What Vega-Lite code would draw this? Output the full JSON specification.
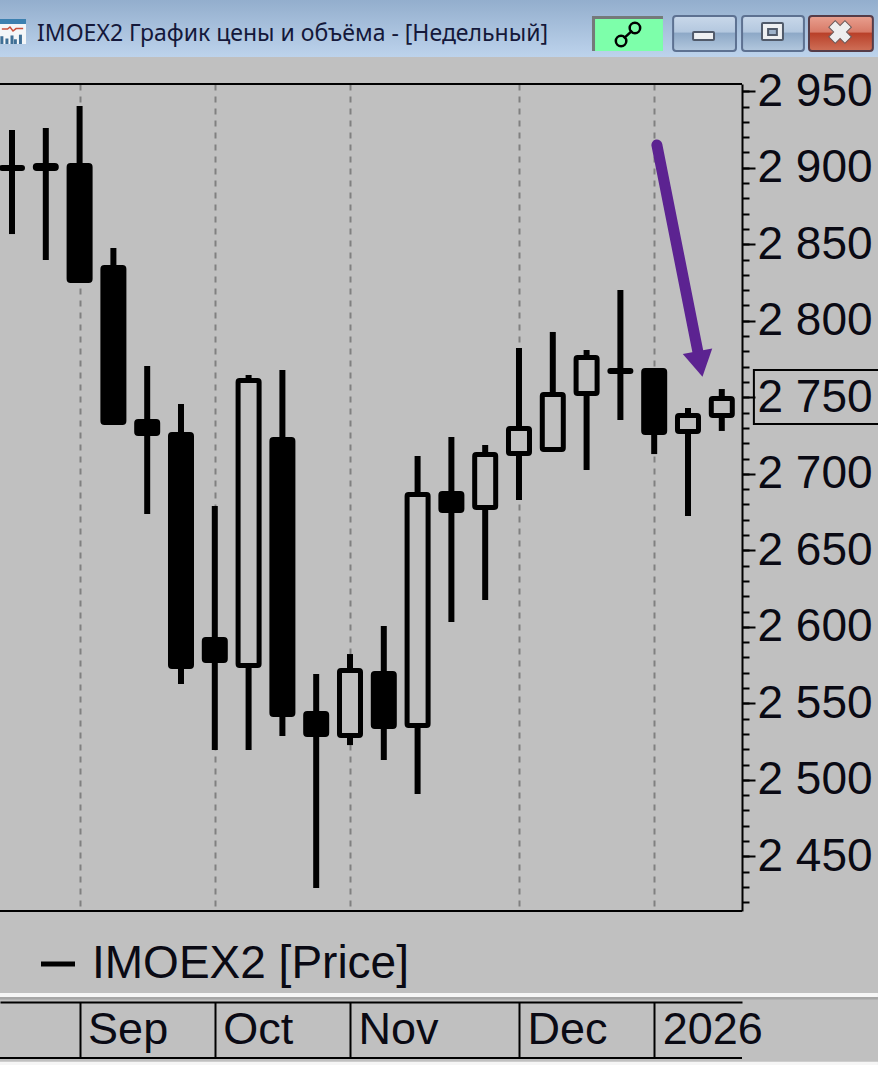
{
"$schema":"https://vega.github.io/schema/vega-lite/v6.json",
"width":742,"height":827,
"autosize":{"type":"none"},
"padding":{"left":0,"top":84,"right":136,"bottom":154},
"background":"#c0c0c0",
"config":{"view":{"stroke":null}},
"title":{"text":"IMOEX2 График цены и объёма - [Недельный]","anchor":"start","frame":"group","dx":37,"offset":-64,"font":"Noto Sans","fontSize":23,"fontWeight":"normal","color":"#14183a","baseline":"alphabetic"},
"resolve":{"axis":{"x":"independent","y":"independent"}},
"data":{"values":[
{"x":0,"open":2899.5,"close":2900.2,"high":2924.7,"low":2856.7},
{"x":1,"open":2899.5,"close":2901.5,"high":2926.0,"low":2839.7},
{"x":2,"open":2901.5,"close":2826.3,"high":2940.4,"low":2824.7},
{"x":3,"open":2834.8,"close":2733.5,"high":2847.6,"low":2732.5},
{"x":4,"open":2734.2,"close":2726.3,"high":2770.4,"low":2673.7},
{"x":5,"open":2725.7,"close":2574.05,"high":2745.6,"low":2562.6},
{"x":6,"open":2591.7,"close":2578.0,"high":2679.0,"low":2519.5},
{"x":7,"open":2574.7,"close":2761.0,"high":2764.6,"low":2519.5},
{"x":8,"open":2722.4,"close":2542.7,"high":2767.8,"low":2528.6},
{"x":9,"open":2543.3,"close":2529.6,"high":2569.2,"low":2429.3},
{"x":10,"open":2529.0,"close":2571.4,"high":2582.2,"low":2522.7},
{"x":11,"open":2569.5,"close":2534.8,"high":2600.5,"low":2512.9},
{"x":12,"open":2535.5,"close":2686.5,"high":2711.6,"low":2490.7},
{"x":13,"open":2687.1,"close":2676.0,"high":2724.1,"low":2603.1},
{"x":14,"open":2678.0,"close":2712.6,"high":2718.8,"low":2617.5},
{"x":15,"open":2713.3,"close":2729.6,"high":2782.2,"low":2682.9},
{"x":16,"open":2715.9,"close":2751.8,"high":2792.7,"low":2714.9},
{"x":17,"open":2752.5,"close":2776.0,"high":2780.9,"low":2702.5},
{"x":18,"open":2767.5,"close":2766.9,"high":2820.1,"low":2735.2},
{"x":19,"open":2767.5,"close":2727.0,"high":2769.1,"low":2712.9},
{"x":20,"open":2727.6,"close":2738.1,"high":2743.0,"low":2672.4},
{"x":21,"open":2738.1,"close":2749.2,"high":2755.4,"low":2728.0}
]},
"encoding":{
"x":{"field":"x","type":"quantitative","scale":{"domain":[-0.355,21.598],"nice":false,"zero":false,"padding":0},"axis":null},
"y":{"field":"y","type":"quantitative","scale":{"domain":[2414.25,2954.77],"nice":false,"zero":false},"axis":null}
},
"layer":[
{"data":{"values":[{"x":-0.355,"x2":25.62,"y":3009.67,"y2":2972.42}]},
 "mark":{"type":"rect","clip":false,"color":{"gradient":"linear","x1":0,"y1":0,"x2":0,"y2":1,"stops":[{"offset":0,"color":"#93aecd"},{"offset":1,"color":"#bdd3ec"}]}},
 "encoding":{"x2":{"field":"x2"},"y2":{"field":"y2"}}},
{"data":{"values":[{"x":-0.355,"x2":25.62,"y":2360.65,"y2":2358.04},{"x":-0.355,"x2":25.62,"y":2315.7,"y2":2313.6}]},
 "mark":{"type":"rect","clip":false,"color":"#f6f6f6"},
 "encoding":{"x2":{"field":"x2"},"y2":{"field":"y2"}}},
{"data":{"values":[{"x":-0.355,"x2":25.62,"y":2358.04,"y2":2356.4}]},
 "mark":{"type":"rect","clip":false,"color":"#a6a6a6"},
 "encoding":{"x2":{"field":"x2"},"y2":{"field":"y2"}}},
{"data":{"values":[{"x":-0.355,"x2":0.414,"y":2996.6,"y2":2980.9}]},
 "mark":{"type":"rect","clip":false,"color":"#f4f6f8"},
 "encoding":{"x2":{"field":"x2"},"y2":{"field":"y2"}}},
{"data":{"values":[{"x":-0.355,"x2":0.414,"y":2997.25,"y2":2994.0}]},
 "mark":{"type":"rect","clip":false,"color":"#3c80b0"},
 "encoding":{"x2":{"field":"x2"},"y2":{"field":"y2"}}},
{"data":{"values":[{"x":-0.3,"y":2990.7},{"x":-0.13,"y":2990.7},{"x":-0.06,"y":2992.0},{"x":0.03,"y":2989.4},{"x":0.12,"y":2991.0},{"x":0.33,"y":2991.0}]},
 "mark":{"type":"line","clip":false,"color":"#c8503c","strokeWidth":1.5}},
{"data":{"values":[{"x":-0.3,"y":2986.0,"y2":2980.9},{"x":-0.15,"y":2984.5,"y2":2980.9},{"x":0.0,"y":2986.5,"y2":2980.9},{"x":0.1,"y":2984.0,"y2":2980.9},{"x":0.25,"y":2987.0,"y2":2980.9}]},
 "mark":{"type":"rule","clip":false,"color":"#3f6f96","strokeWidth":3},
 "encoding":{"y2":{"field":"y2"}}},
{"data":{"values":[{"x":17.16,"x2":19.26,"y":2999.2,"y2":2976.36}]},
 "mark":{"type":"rect","clip":false,"color":"#75797a"},
 "encoding":{"x2":{"field":"x2"},"y2":{"field":"y2"}}},
{"data":{"values":[{"x":17.25,"x2":19.26,"y":2997.25,"y2":2976.36}]},
 "mark":{"type":"rect","clip":false,"color":"#7dffaa"},
 "encoding":{"x2":{"field":"x2"},"y2":{"field":"y2"}}},
{"data":{"values":[{"x":18.02,"y":2982.87},{"x":18.43,"y":2991.37}]},
 "mark":{"type":"point","clip":false,"shape":"circle","size":110,"filled":false,"stroke":"#000","strokeWidth":2.5,"opacity":1}},
{"data":{"values":[{"x":18.1,"y":2984.6,"x2":18.35,"y2":2989.7}]},
 "mark":{"type":"rule","clip":false,"color":"#000","strokeWidth":2.5},
 "encoding":{"x2":{"field":"x2"},"y2":{"field":"y2"}}},
{"data":{"values":[{"x":19.56,"x2":21.42,"y":2999.2,"y2":2976.36},{"x":21.6,"x2":23.43,"y":2999.2,"y2":2976.36}]},
 "mark":{"type":"rect","clip":false,"cornerRadius":3,"stroke":"#5d7191","strokeWidth":2,"fill":{"gradient":"linear","x1":0,"y1":0,"x2":0,"y2":1,"stops":[{"offset":0,"color":"#c9d8ea"},{"offset":0.45,"color":"#b4c8df"},{"offset":0.5,"color":"#8ea9c7"},{"offset":1,"color":"#b3c8de"}]}},
 "encoding":{"x2":{"field":"x2"},"y2":{"field":"y2"}}},
{"data":{"values":[{"x":23.58,"x2":25.47,"y":2999.2,"y2":2976.36}]},
 "mark":{"type":"rect","clip":false,"cornerRadius":3,"stroke":"#553c48","strokeWidth":2,"fill":{"gradient":"linear","x1":0,"y1":0,"x2":0,"y2":1,"stops":[{"offset":0,"color":"#e9a090"},{"offset":0.45,"color":"#d87b68"},{"offset":0.5,"color":"#b9412a"},{"offset":1,"color":"#cf7058"}]}},
 "encoding":{"x2":{"field":"x2"},"y2":{"field":"y2"}}},
{"data":{"values":[{"x":20.15,"x2":20.77,"y":2988.75,"y2":2983.5},{"x":22.19,"x2":22.81,"y":2994.64,"y2":2983.5}]},
 "mark":{"type":"rect","clip":false,"fill":"#eef0f2","stroke":"#505a6a","strokeWidth":2,"cornerRadius":1},
 "encoding":{"x2":{"field":"x2"},"y2":{"field":"y2"}}},
{"data":{"values":[{"x":22.37,"x2":22.63,"y":2990.7,"y2":2986.8}]},
 "mark":{"type":"rect","clip":false,"fill":"#9db2ca","stroke":"#505a6a","strokeWidth":2},
 "encoding":{"x2":{"field":"x2"},"y2":{"field":"y2"}}},
{"data":{"values":[{"x":24.5,"y":2988.75}]},
 "mark":{"type":"point","clip":false,"shape":"cross","angle":45,"size":520,"filled":true,"fill":"#eeeeee","stroke":"#6a5a5a","strokeWidth":1,"opacity":1}},
{"data":{"values":[{"x":-0.355,"x2":21.598,"y":2954.77},{"x":-0.355,"x2":21.598,"y":2414.25},{"x":-0.355,"x2":21.598,"y":2318.17}]},
 "mark":{"type":"rule","clip":false,"color":"#000","strokeWidth":2},
 "encoding":{"x2":{"field":"x2"}}},
{"mark":{"type":"rule","strokeWidth":6},
 "encoding":{
  "x":{"field":"x","type":"quantitative","scale":{"domain":[-0.355,21.598],"nice":false,"zero":false,"padding":0},
   "axis":{"orient":"bottom","offset":91,"title":null,"values":[2,6,10,15,19],"labelExpr":"{'2':'Sep','6':'Oct','10':'Nov','15':'Dec','19':'2026'}[datum.value]","grid":true,"gridColor":"#808080","gridWidth":2,"gridDash":[6,6],"domainColor":"#000","domainWidth":2,"tickColor":"#000","tickWidth":2,"tickSize":56,"labelAlign":"left","labelBaseline":"alphabetic","labelPadding":-15,"labelOffset":8,"labelFont":"Liberation Sans","labelFontSize":45,"labelColor":"#0a0a14","labelOverlap":false,"labelBound":false,"labelFlush":false}},
  "y":{"field":"high","type":"quantitative","scale":{"domain":[2414.25,2954.77],"nice":false,"zero":false},
   "axis":{"orient":"right","title":null,"values":[2450,2500,2550,2600,2650,2700,2750,2800,2850,2900,2950],"labelExpr":"floor(datum.value/1000)+' '+(datum.value%1000)","domainColor":"#000","domainWidth":2,"tickColor":"#000","tickWidth":2,"tickSize":13,"labelPadding":2,"labelFont":"Liberation Sans","labelFontSize":46,"labelColor":"#0a0a14","labelOverlap":false,"labelBound":false,"labelFlush":false,"grid":false}},
  "y2":{"field":"low"},
  "color":{"datum":"IMOEX2 [Price]","scale":{"range":["#000000"]},
   "legend":{"orient":"none","legendX":35,"legendY":857,"title":null,"symbolType":"stroke","symbolSize":1156,"symbolStrokeWidth":5,"symbolStrokeColor":"#000","labelFont":"Liberation Sans","labelFontSize":46,"labelColor":"#0a0a14","labelLimit":0,"labelOffset":11,"padding":0}}
 }},
{"mark":{"type":"bar","size":21,"stroke":"#000","strokeWidth":5,"cornerRadius":1.5,"opacity":1},
 "encoding":{
  "y":{"field":"open","type":"quantitative","scale":{"domain":[2414.25,2954.77],"nice":false,"zero":false},
   "axis":{"orient":"right","title":null,"values":[2420,2430,2440,2450,2460,2470,2480,2490,2500,2510,2520,2530,2540,2550,2560,2570,2580,2590,2600,2610,2620,2630,2640,2650,2660,2670,2680,2690,2700,2710,2720,2730,2740,2750,2760,2770,2780,2790,2800,2810,2820,2830,2840,2850,2860,2870,2880,2890,2900,2910,2920,2930,2940,2950],"labels":false,"domain":false,"tickColor":"#000","tickWidth":2,"tickSize":7,"grid":false}},
  "y2":{"field":"close"},
  "fill":{"condition":{"test":"datum.close>datum.open","value":"#c0c0c0"},"value":"#000000"}
 }},
{"data":{"values":[{"x":21.95,"x2":25.68,"y":2767.84,"y2":2732.55}]},
 "mark":{"type":"rect","clip":false,"fill":null,"stroke":"#000","strokeWidth":2},
 "encoding":{"x2":{"field":"x2"},"y2":{"field":"y2"}}},
{"data":{"values":[{"x":19.08,"x2":20.33,"y":2914.9,"y2":2775.7}]},
 "mark":{"type":"rule","clip":false,"color":"#5c2391","strokeWidth":11,"strokeCap":"round"},
 "encoding":{"x2":{"field":"x2"},"y2":{"field":"y2"}}},
{"data":{"values":[{"x":20.355,"y":2771.76}]},
 "mark":{"type":"point","clip":false,"shape":"triangle-down","angle":349,"size":900,"filled":true,"color":"#5c2391","opacity":1}}
]
}
